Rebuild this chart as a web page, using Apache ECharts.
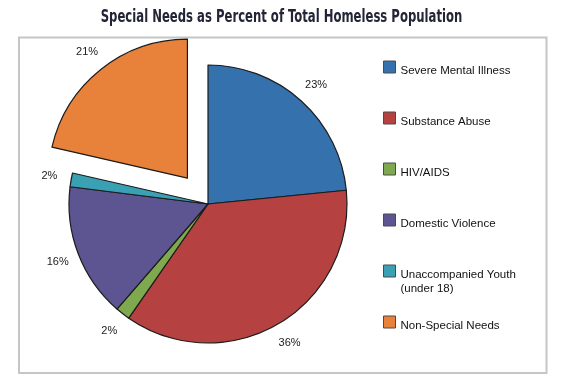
<!DOCTYPE html>
<html>
<head>
<meta charset="utf-8">
<script src="https://cdn.jsdelivr.net/npm/echarts@6/dist/echarts.min.js"></script>
<style>html,body{margin:0;padding:0;background:#fff;}#chart{width:569px;height:386px;}</style>
</head>
<body>
<div id="chart"></div>
<script>
const titleText = 'Special Needs as Percent of Total Homeless Population';
const categories = ['Severe Mental Illness', 'Substance Abuse', 'HIV/AIDS', 'Domestic Violence', 'Unaccompanied Youth (under 18)', 'Non-Special Needs'];
// shares in percent (labels show them rounded)
const values = [23.4, 36.2, 1.7, 15.6, 1.6, 21.4];
const palette = ['#3572ad', '#b54241', '#7fa94e', '#5d5591', '#3aa0b3', '#e8813a'];
const explodedCategory = 'Non-Special Needs';

const chart = echarts.init(document.getElementById('chart'), null, {renderer: 'canvas'});
const FONT = "'Liberation Sans', Arial, sans-serif";
const center = [208, 204];

const pieData = categories.map((name, i) => ({
  name: name,
  value: values[i],
  selected: name === explodedCategory,
  itemStyle: {color: palette[i]}
}));
const labelData = categories.map((name, i) => ({
  name: name,
  value: values[i],
  selected: name === explodedCategory
}));

chart.setOption({
  animation: false,
  color: palette,
  graphic: [{
    type: 'rect',
    shape: {x: 19, y: 37.5, width: 527.5, height: 335.5},
    style: {fill: 'none', stroke: '#c3c7c7', lineWidth: 2},
    silent: true,
    z: -1
  }, {
    type: 'text',
    x: 281.5,
    y: 18,
    scaleX: 0.762,
    silent: true,
    style: {
      text: titleText,
      align: 'center',
      verticalAlign: 'middle',
      fontFamily: "'DejaVu Sans Condensed', 'DejaVu Sans', sans-serif",
      fontWeight: 'bold',
      fontSize: 17,
      fill: '#232535'
    }
  }],
  legend: {
    orient: 'vertical',
    left: 383,
    top: 47,
    padding: 0,
    itemGap: 7,
    itemWidth: 12,
    itemHeight: 12,
    icon: 'rect',
    data: categories,
    itemStyle: {borderColor: '#4a4a4a', borderWidth: 1},
    formatter: (name) => {
      const wrapped = name.indexOf(' (') >= 0 ? name.replace(' (', '\n(') : name;
      return wrapped.indexOf('\n') >= 0
        ? '{t2| }\n{n|' + wrapped + '}'
        : '{t| }\n{n|' + wrapped + '}\n{b| }';
    },
    textStyle: {
      fontFamily: FONT, fontSize: 11.5, color: '#111',
      rich: {
        t: {lineHeight: 22, fontSize: 11.5},
        t2: {lineHeight: 22, fontSize: 11.5},
        b: {lineHeight: 14, fontSize: 11.5},
        n: {lineHeight: 14, fontSize: 11.5, fontFamily: FONT, color: '#111'}
      }
    }
  },
  series: [{
    type: 'pie',
    center: center,
    radius: 139,
    startAngle: 90,
    clockwise: true,
    selectedMode: 'single',
    selectedOffset: 33,
    data: pieData,
    label: {show: false},
    labelLine: {show: false},
    itemStyle: {borderColor: '#1c1c1c', borderWidth: 1.2},
    emphasis: {disabled: true},
    z: 2
  }, {
    type: 'pie',
    center: center,
    radius: [150, 166],
    startAngle: 90,
    clockwise: true,
    silent: true,
    selectedMode: 'single',
    selectedOffset: 33,
    data: labelData,
    itemStyle: {color: 'rgba(0,0,0,0)', borderWidth: 0},
    label: {
      show: true,
      position: 'inside',
      formatter: (p) => Math.round(p.percent) + '%',
      fontFamily: FONT,
      fontSize: 11,
      color: '#1a1a1a'
    },
    labelLine: {show: false},
    emphasis: {disabled: true},
    z: 1
  }]
});
</script>
</body>
</html>
